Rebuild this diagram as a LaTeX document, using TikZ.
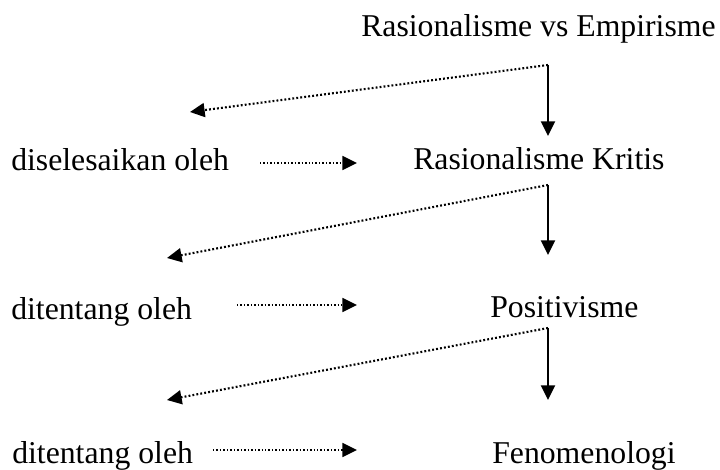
\documentclass[tikz,border=0pt]{standalone}
\usepackage{fontspec}
\setmainfont{Liberation Serif}
\usetikzlibrary{arrows.meta}

\begin{document}
\begin{tikzpicture}[x=0.75pt, y=-0.75pt, line join=round, >={Triangle[length=11pt, width=10.5pt]},
    term/.style={anchor=base west, inner sep=0pt, font=\fontsize{23.8}{28}\selectfont},
    flow/.style={->, line width=1.5pt},
    back/.style={->, line width=1.6pt, dash pattern=on 1.4pt off 1.6pt},
    link/.style={->, line width=1.3pt, dash pattern=on 1.1pt off 1.5pt}]

        \useasboundingbox (0,0) rectangle (720,469);

        % Main chain (right column)
        \node[term] (rve) at (361,36) {Rasionalisme vs Empirisme};
        \node[term] (kritis) at (413,169) {Rasionalisme Kritis};
        \node[term] (posit) at (490,317) {Positivisme};
        \node[term] (fenom) at (492,463) {Fenomenologi};

        % Left column
        \node[term] (solve) at (11,170) {diselesaikan oleh};
        \node[term] (oppA) at (11,319) {ditentang oleh};
        \node[term] (oppB) at (12,463) {ditentang oleh};

        % Branch points and tips
        \coordinate (s1) at (548,65);
        \coordinate (e1) at (548,136);
        \coordinate (b1) at (190,112);
        \coordinate (s2) at (548,185);
        \coordinate (e2) at (548,255);
        \coordinate (b2) at (167,258);
        \coordinate (s3) at (548,328);
        \coordinate (e3) at (548,400);
        \coordinate (b3) at (167,400);

        % Downward arrows
        \draw[flow] (s1) -- (e1);
        \draw[flow] (s2) -- (e2);
        \draw[flow] (s3) -- (e3);

        % Dotted arrows back to the left
        \draw[back] (s1) -- (b1);
        \draw[back] (s2) -- (b2);
        \draw[back] (s3) -- (b3);

        % Dotted arrows to the right
        \draw[link] (260,163) -- (357,163);
        \draw[link] (237,305) -- (357,305);
        \draw[link] (213,450) -- (357,450);

    \end{tikzpicture}
\end{document}
